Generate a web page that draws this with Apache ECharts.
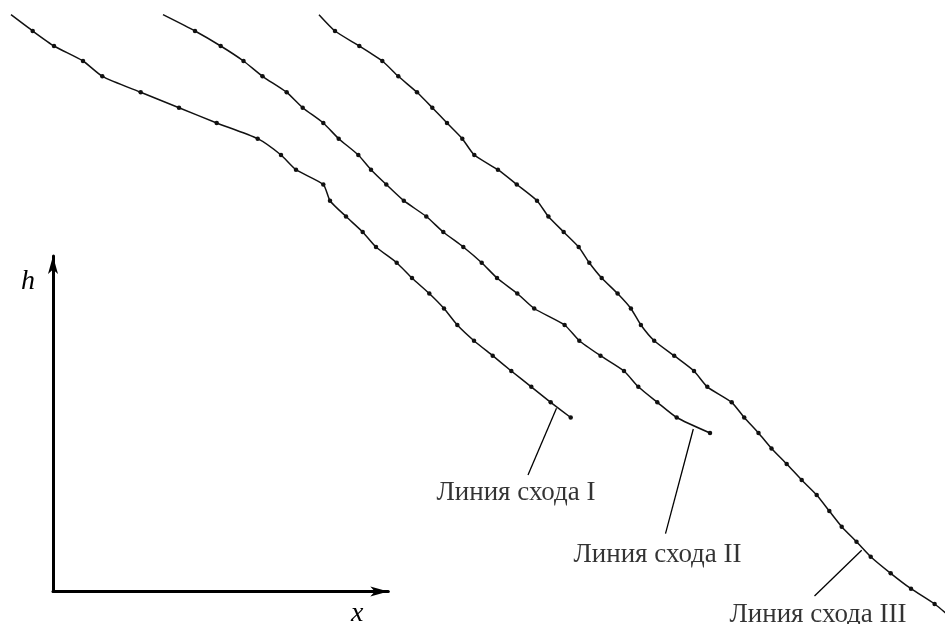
<!DOCTYPE html>
<html>
<head>
<meta charset="utf-8">
<script src="https://cdn.jsdelivr.net/npm/echarts@6/dist/echarts.min.js"></script>
<style>
html,body{margin:0;padding:0;background:#fff;}
#c{width:945px;height:624px;}
</style>
</head>
<body>
<div id="c"></div>
<script>
// Shared h levels (picture units, h measured upward)
const hLevels = [609.3, 593, 578, 563, 547.7, 531.7, 516.3, 501, 485.3, 469, 454.3, 439.5, 423.3, 407.5, 392, 377, 361.3, 346, 330.5, 315.5, 299, 283.3, 268.3, 253, 237.2, 221.7, 206.5, 191, 175.5, 160, 144, 129, 113, 97.3, 82.3, 67.3, 50.7, 35.3, 20];

// x of each line at each h level
const lineI_x = [11, 32.7, 54, 83, 102.3, 140.7, 179, 216.7, 257.7, 281, 296, 323.3, 330, 346, 362.7, 376, 396.7, 412, 429.3, 444, 457.3, 474, 492.7, 511.3, 531.3, 550.7, 570.7];
const lineII_x = [163, 195, 220.7, 243.5, 262.5, 286.7, 302.7, 323.3, 338.7, 358.3, 371, 386.3, 403.8, 426.3, 443.3, 463.3, 481.7, 497, 517.3, 534.2, 564.6, 579.3, 600.5, 624, 638.3, 657.3, 676.7, 710];
const lineIII_x = [319, 335, 359.3, 382.3, 398.3, 417, 432.3, 447, 462.3, 474.3, 497.9, 516.8, 537, 548.4, 563.7, 578.7, 589.3, 601.7, 617.6, 630.9, 640.9, 654.2, 674.2, 694, 707.3, 731.7, 744.2, 758.5, 771.5, 786.7, 801.7, 816.7, 829.3, 841.7, 856.5, 870.7, 890.7, 911, 934.6];
const lineIII_tail = [948, 9];

const lineNames = ['Линия схода I', 'Линия схода II', 'Линия схода III'];
// leader lines: [point on curve, free end]
const leaderI = [[556.5, 215.7], [528, 149]];
const leaderII = [[693.3, 195], [665.5, 90.3]];
const leaderIII = [[861.7, 73.7], [814.5, 28]];

const axisNames = ['x', 'h'];

function curveData(xs, tail) {
  const d = xs.map((x, i) => [x, hLevels[i]]);
  if (tail) d.push(tail);
  return d;
}

const SERIF = '"Liberation Serif"';

function curveSeries(xs, tail) {
  const n = xs.length;
  return {
    type: 'line',
    xAxisIndex: 1, yAxisIndex: 1,
    data: curveData(xs, tail),
    smooth: 0.2,
    symbol: function (v, p) { return (p.dataIndex === 0 || p.dataIndex >= n) ? 'none' : 'circle'; },
    symbolSize: 4.5,
    showAllSymbol: true,
    itemStyle: { color: '#111' },
    lineStyle: { color: '#111', width: 1.5 },
    silent: true,
    animation: false
  };
}

function leaderSeries(pts) {
  return {
    type: 'line', xAxisIndex: 1, yAxisIndex: 1,
    data: pts, symbol: 'none',
    lineStyle: { color: '#000', width: 1.3 },
    animation: false, silent: true
  };
}

function labelSeries(pt, name, offset) {
  return {
    type: 'scatter', xAxisIndex: 1, yAxisIndex: 1,
    data: [pt], symbolSize: 0.01,
    label: {
      show: true, position: 'inside', offset: offset,
      formatter: name, color: '#000',
      fontFamily: SERIF, fontSize: 27
    },
    animation: false, silent: true
  };
}

const chart = echarts.init(document.getElementById('c'));
chart.setOption({
  backgroundColor: '#fff',
  animation: false,
  grid: [
    { left: 53, top: 256, right: 556.7, bottom: 32.5, containLabel: false, outerBoundsMode: 'none' },
    { left: 0, top: 0, right: 0, bottom: 0, containLabel: false, outerBoundsMode: 'none' }
  ],
  xAxis: [
    {
      type: 'value', gridIndex: 0, min: 0, max: 1,
      name: axisNames[0], nameLocation: 'end', nameGap: -31,
      nameTextStyle: { fontFamily: SERIF, fontStyle: 'italic', fontSize: 28, color: '#000', align: 'center', verticalAlign: 'top', padding: [8, 0, 0, 0] },
      axisLine: { show: true, onZero: false, symbol: ['none', 'arrow'], symbolSize: [7.5, 18], lineStyle: { color: '#000', width: 3 } },
      axisTick: { show: false }, axisLabel: { show: false }, splitLine: { show: false }
    },
    {
      type: 'value', gridIndex: 1, min: 0, max: 945, show: false
    }
  ],
  yAxis: [
    {
      type: 'value', gridIndex: 0, min: 0, max: 1,
      name: axisNames[1], nameLocation: 'end', nameGap: -40,
      nameTextStyle: { fontFamily: SERIF, fontStyle: 'italic', fontSize: 28, color: '#000', align: 'right', padding: [0, 18, 0, 0] },
      axisLine: { show: true, onZero: false, symbol: ['none', 'arrow'], symbolSize: [7.5, 18], lineStyle: { color: '#000', width: 3 } },
      axisTick: { show: false }, axisLabel: { show: false }, splitLine: { show: false }
    },
    {
      type: 'value', gridIndex: 1, min: 0, max: 624, show: false
    }
  ],
  series: [
    curveSeries(lineI_x),
    curveSeries(lineII_x),
    curveSeries(lineIII_x, lineIII_tail),
    leaderSeries(leaderI),
    leaderSeries(leaderII),
    leaderSeries(leaderIII),
    labelSeries(leaderI[1], lineNames[0], [-12, 18]),
    labelSeries(leaderII[1], lineNames[1], [-8, 21]),
    labelSeries(leaderIII[1], lineNames[2], [3.5, 19])
  ]
});
</script>
</body>
</html>
